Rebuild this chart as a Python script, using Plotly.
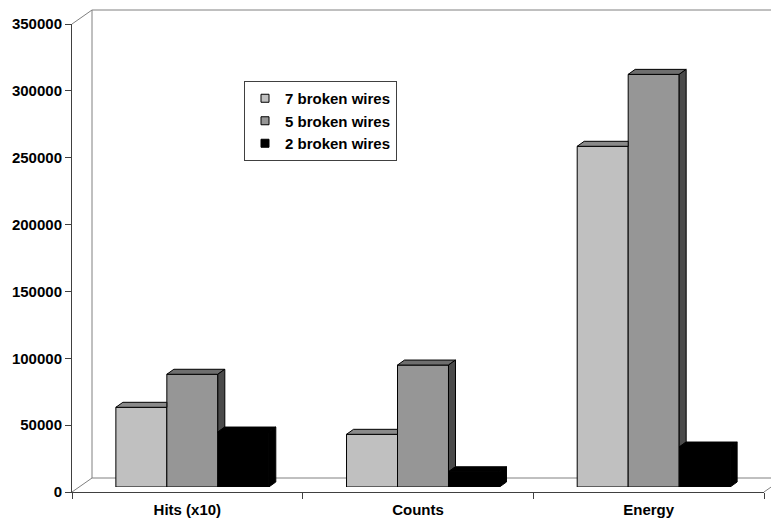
import plotly.graph_objects as go

# ---- data -------------------------------------------------------------
categories = ["Hits (x10)", "Counts", "Energy"]
series_names = ["7 broken wires", "5 broken wires", "2 broken wires"]
wires7 = [59600, 39400, 254800]
wires5 = [84300, 91200, 308600]
wires2 = [41100, 11400, 29900]
y_ticks = [0, 50000, 100000, 150000, 200000, 250000, 300000, 350000]

# ---- style ------------------------------------------------------------
W, H = 771, 521
FONT = dict(family="Liberation Sans, Arial, sans-serif", size=15, color="black", weight="bold")
front_col = ["#C0C0C0", "#969696", "#000000"]
top_col = ["#8A8A8A", "#6E6E6E", "#000000"]
side_col = ["#9A9A9A", "#4A4A4A", "#000000"]
WALL = "#808080"
AXIS = "#404040"

Y_MAX = 350000
BARGAP = 0.337

# front plane of the box (pixels -> paper)
px_left, px_right, px_top, px_bottom = 72, 764, 24, 492
FX0, FX1 = px_left / W, px_right / W
FY0, FY1 = (H - px_bottom) / H, (H - px_top) / H
# depth of the back wall and floor
WDX, WDY = 20 / W, 14 / H
# the bars stand a little behind the front plane
BSX, BSY = 5 / W, 5 / H

# depth of a single bar, in data units of the bar plane
plot_w_px = px_right - px_left
plot_h_px = px_bottom - px_top
DX = 7 / (plot_w_px / len(categories))
DY = 5 * Y_MAX / plot_h_px

values = [wires7, wires5, wires2]
xs = list(range(len(categories)))

fig = go.Figure()

# front faces of the columns
for i, (name, vals) in enumerate(zip(series_names, values)):
    fig.add_trace(go.Bar(
        x=xs, y=vals, name=name, showlegend=False,
        marker=dict(color=front_col[i], line=dict(color="black", width=1)),
        xaxis="x2", yaxis="y2",
    ))

# top and side faces of the columns
GW = 1 - BARGAP
BW = GW / len(values)
for c in xs:
    for i in range(len(values)):
        v = values[i][c]
        x0 = c - GW / 2 + i * BW
        x1 = x0 + BW
        nxt = values[i + 1][c] if i + 1 < len(values) else None
        # top face
        if nxt is not None and nxt >= v:
            tx = [x0, x1, x1, x0 + DX, x0]
        else:
            tx = [x0, x1, x1 + DX, x0 + DX, x0]
        ty = [v, v, v + DY, v + DY, v]
        fig.add_trace(go.Scatter(
            x=tx, y=ty, mode="lines", fill="toself", fillcolor=top_col[i],
            line=dict(color="black", width=1), hoverinfo="skip", showlegend=False,
            xaxis="x2", yaxis="y2",
        ))
        # side face (only the part not hidden by the neighbouring column)
        if nxt is None or nxt < v:
            lo = 0 if nxt is None else nxt
            sx = [x1, x1, x1 + DX, x1 + DX, x1]
            sy = [lo, v, v + DY, lo + DY, lo]
            fig.add_trace(go.Scatter(
                x=sx, y=sy, mode="lines", fill="toself", fillcolor=side_col[i],
                line=dict(color="black", width=1), hoverinfo="skip", showlegend=False,
                xaxis="x2", yaxis="y2",
            ))

# legend entries
for i, name in enumerate(series_names):
    fig.add_trace(go.Scatter(
        x=[None], y=[None], mode="markers", name=name,
        marker=dict(symbol="square", size=8, color=front_col[i],
                    line=dict(color="black", width=1)),
        xaxis="x", yaxis="y",
    ))

# back wall and floor outline
lines = [
    (FX0, FY1, FX0 + WDX, FY1 + WDY),
    (FX0 + WDX, FY1 + WDY, FX1 + WDX, FY1 + WDY),
    (FX0 + WDX, FY0 + WDY, FX0 + WDX, FY1 + WDY),
    (FX0, FY0, FX0 + WDX, FY0 + WDY),
    (FX0 + WDX, FY0 + WDY, FX1 + WDX, FY0 + WDY),
    (FX1, FY0, FX1 + WDX, FY0 + WDY),
]
shapes = [dict(type="line", xref="paper", yref="paper", x0=a, y0=b, x1=c, y1=d,
               line=dict(color=WALL, width=1), layer="below") for a, b, c, d in lines]

fig.update_layout(
    template="none",
    width=W, height=H, autosize=False,
    margin=dict(l=0, r=0, t=0, b=0, pad=0, autoexpand=False),
    paper_bgcolor="white", plot_bgcolor="rgba(0,0,0,0)",
    font=FONT,
    barmode="group", bargap=BARGAP, bargroupgap=0,
    shapes=shapes,
    showlegend=True,
    legend=dict(
        x=244 / W, y=1 - 81 / H, xanchor="left", yanchor="top",
        bgcolor="white", bordercolor=AXIS, borderwidth=1, font=FONT,
    ),
    xaxis=dict(
        domain=[FX0, FX1], range=[-0.5, len(categories) - 0.5],
        tickmode="array", tickvals=xs, ticktext=categories, ticks="",
        ticklabelstandoff=4,
        minor=dict(tickmode="array", tickvals=[k - 0.5 for k in range(len(categories) + 1)],
                   ticks="outside", ticklen=6, tickcolor=AXIS, tickwidth=1, showgrid=False),
        showline=True, linecolor=AXIS, linewidth=1, automargin=False,
        showgrid=False, zeroline=False, anchor="y", fixedrange=True,
    ),
    yaxis=dict(
        domain=[FY0, FY1], range=[0, Y_MAX],
        tickmode="array", tickvals=y_ticks, tickformat="d",
        ticks="outside", ticklen=6, tickcolor=AXIS, tickwidth=1,
        showline=True, linecolor=AXIS, linewidth=1, automargin=False,
        showgrid=False, zeroline=False, anchor="x", fixedrange=True,
    ),
    xaxis2=dict(
        domain=[FX0 + BSX, FX1 + BSX], range=[-0.5, len(categories) - 0.5],
        visible=False, anchor="y2", fixedrange=True, automargin=False,
    ),
    yaxis2=dict(
        domain=[FY0 + BSY, FY1 + BSY], range=[0, Y_MAX],
        visible=False, anchor="x2", fixedrange=True, automargin=False,
    ),
)

fig.write_html("out.html")
